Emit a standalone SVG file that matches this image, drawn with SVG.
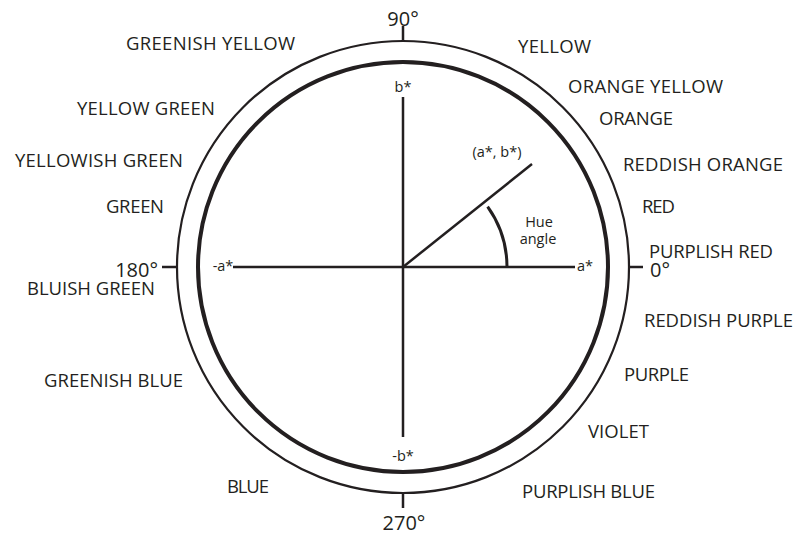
<svg xmlns="http://www.w3.org/2000/svg" width="795" height="535" viewBox="0 0 795 535">
<style>
.lbl{font-family:"Open Sans","Liberation Sans",sans-serif;font-size:18.5px;fill:#231f20}
.deg{font-family:"Open Sans","Liberation Sans",sans-serif;font-size:20px;fill:#231f20}
.ax{font-family:"Open Sans","Liberation Sans",sans-serif;font-size:14.5px;fill:#231f20}
.ln{stroke:#231f20;fill:none;stroke-width:2.5}
</style>
<rect width="795" height="535" fill="#fff"/>
<g id="outer-circle"><circle cx="403" cy="267" r="226" class="ln" style="stroke-width:2.2"/></g>
<g id="inner-circle"><circle cx="403" cy="267" r="205" class="ln" style="stroke-width:4"/></g>
<g id="connectors">
<line class="ln" x1="403" y1="97" x2="403" y2="437"/>
<line class="ln" x1="233" y1="267" x2="575" y2="267"/>
<line class="ln" x1="403" y1="267" x2="532" y2="164"/>
<path class="ln" style="stroke-width:3" d="M507 267 A104 104 0 0 0 487.6 206.6"/>
<line class="ln" x1="403" y1="26" x2="403" y2="41"/>
<line class="ln" x1="403" y1="493" x2="403" y2="508"/>
<line class="ln" x1="162" y1="267" x2="177" y2="267"/>
<line class="ln" x1="629" y1="267" x2="643" y2="267"/>
</g>
<g id="axis-labels">
<text class="ax" x="403" y="92" text-anchor="middle">b*</text>
<text class="ax" x="403" y="461" text-anchor="middle">-b*</text>
<text class="ax" x="223" y="271" text-anchor="middle">-a*</text>
<text class="ax" x="585" y="271" text-anchor="middle">a*</text>
<text class="ax" x="497" y="157" text-anchor="middle">(a*, b*)</text>
<text class="ax" x="539" y="227" text-anchor="middle">Hue</text>
<text class="ax" x="538" y="244" text-anchor="middle">angle</text>
</g>
<g id="degree-labels">
<text class="deg" x="403" y="26" text-anchor="middle">90°</text>
<text class="deg" x="404" y="530" text-anchor="middle">270°</text>
<text class="deg" x="158" y="277" text-anchor="end">180°</text>
<text class="deg" x="650" y="277">0°</text>
</g>
<g id="hue-labels">
<text class="lbl" x="126" y="50" textLength="169">GREENISH YELLOW</text>
<text class="lbl" x="77" y="115" textLength="138">YELLOW GREEN</text>
<text class="lbl" x="15" y="167" textLength="168">YELLOWISH GREEN</text>
<text class="lbl" x="106" y="213" textLength="58">GREEN</text>
<text class="lbl" x="27" y="295" textLength="128">BLUISH GREEN</text>
<text class="lbl" x="44" y="387" textLength="139">GREENISH BLUE</text>
<text class="lbl" x="227" y="493" textLength="42">BLUE</text>
<text class="lbl" x="518" y="53" textLength="73">YELLOW</text>
<text class="lbl" x="568" y="93" textLength="155">ORANGE YELLOW</text>
<text class="lbl" x="599" y="125" textLength="74">ORANGE</text>
<text class="lbl" x="623" y="171" textLength="160">REDDISH ORANGE</text>
<text class="lbl" x="642" y="213" textLength="33">RED</text>
<text class="lbl" x="649" y="258" textLength="124">PURPLISH RED</text>
<text class="lbl" x="644" y="327" textLength="149">REDDISH PURPLE</text>
<text class="lbl" x="624" y="381" textLength="65">PURPLE</text>
<text class="lbl" x="588" y="438" textLength="61">VIOLET</text>
<text class="lbl" x="522" y="498" textLength="133">PURPLISH BLUE</text>
</g>
</svg>
